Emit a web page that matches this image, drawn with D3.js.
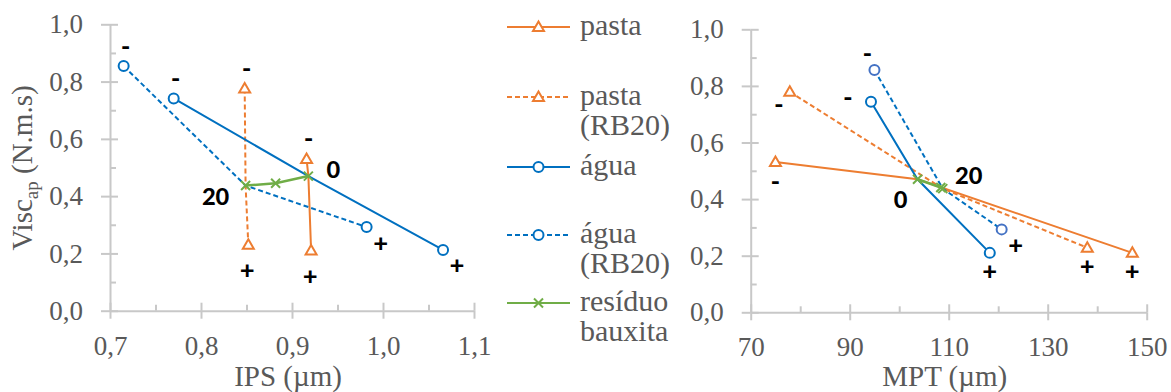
<!DOCTYPE html>
<html>
<head>
<meta charset="utf-8">
<script src="https://cdn.jsdelivr.net/npm/d3@7"></script>
<style>
  body { margin: 0; background: #fff; }
  svg { display: block; }
</style>
</head>
<body>
<div id="wrapper"></div>
<script>
// legend entries (wrapped like in the original)
const seriesNames = ["pasta", "pasta (RB20)", "água", "água (RB20)", "resíduo bauxita"];
const legendLines = [["pasta"], ["pasta", "(RB20)"], ["água"], ["água", "(RB20)"], ["resíduo", "bauxita"]];

// tick values
const viscTicks = [0, 0.2, 0.4, 0.6, 0.8, 1.0];
const viscMinorTicks = [0.1, 0.3, 0.5, 0.7, 0.9];
const ipsTicks = [0.7, 0.8, 0.9, 1.0, 1.1];
const ipsMinorTicks = [0.75, 0.85, 0.95, 1.05];
const mptTicks = [70, 90, 110, 130, 150];
const mptMinorTicks = [80, 100, 120, 140];

// left panel: IPS (µm) x Visc_ap  -- each series is  "-", centre, "+"
const ipsPasta = [[0.916, 0.53], [0.918, 0.47], [0.921, 0.21]];
const ipsPastaRB = [[0.848, 0.776], [0.849, 0.437], [0.852, 0.23]];
const ipsAgua = [[0.770, 0.741], [0.918, 0.47], [1.066, 0.212]];
const ipsAguaRB = [[0.715, 0.854], [0.849, 0.437], [0.982, 0.292]];
const ipsResiduo = [[0.918, 0.47], [0.882, 0.445], [0.849, 0.437]];

// right panel: MPT (µm) x Visc_ap
const mptPasta = [[75.0, 0.531], [103.7, 0.47], [147.1, 0.21]];
const mptPastaRB = [[77.9, 0.779], [108.8, 0.437], [138.0, 0.228]];
const mptAgua = [[94.3, 0.744], [103.7, 0.47], [118.3, 0.21]];
const mptAguaRB = [[95.0, 0.856], [108.8, 0.437], [120.7, 0.293]];
const mptResiduo = [[103.7, 0.47], [108.4, 0.441], [108.8, 0.437]];

// data labels: [series, point, text, placement]
const ipsLabels = [
    [3, 0, "-", "t"], [2, 0, "-", "t"], [1, 0, "-", "t"], [0, 0, "-", "t"],
    [1, 2, "+", "bb"], [0, 2, "+", "bb"], [3, 2, "+", "br"], [2, 2, "+", "br"],
    [4, 2, "20", "L"], [4, 0, "0", "R"]
];
const mptLabels = [
    [0, 0, "-", "b"], [1, 0, "-", "bl"], [2, 0, "-", "l"], [3, 0, "-", "tl"],
    [2, 2, "+", "b"], [3, 2, "+", "br"], [1, 2, "+", "b"], [0, 2, "+", "b"],
    [4, 0, "0", "BL"], [4, 2, "20", "TR"]
];

// style of each series
const styles = [
    {color: "#ED7D31", dash: null, marker: "tri"},
    {color: "#ED7D31", dash: "5,3", marker: "tri"},
    {color: "#0070C0", dash: null, marker: "circ"},
    {color: "#0070C0", dash: "5,3", marker: "circ"},
    {color: "#70AD47", dash: null, marker: "x"}
];

// label offset (px) for each placement keyword
const place = {
    t: [2, -21], b: [0, 18], bb: [-1, 25], br: [14, 15], bl: [-11, 12],
    l: [-23, -5], tl: [-7, -18], L: [-30, 10], R: [25, -8], BL: [-17, 19], TR: [26, -14]
};

const grey = "#595959";
const axisGrey = "#C8C8C8";
const serifFont = "Liberation Serif";
const labelFont = "Carlito";

const locale = d3.formatLocale({decimal: ",", thousands: ".", grouping: [3], currency: ["", ""]});
const fmt1 = locale.format(".1f");

const svg = d3.select("#wrapper").append("svg")
    .attr("width", 1171)
    .attr("height", 392);

const panels = [
    {x0: 110, x1: 474, y0: 24.3, y1: 310.7, domain: [0.7, 1.1], ticks: ipsTicks, minor: ipsMinorTicks,
     format: fmt1, series: [ipsPasta, ipsPastaRB, ipsAgua, ipsAguaRB, ipsResiduo], labels: ipsLabels,
     title: "IPS (µm)", markerColor: {}},
    {x0: 750.7, x1: 1146.7, y0: 29.3, y1: 312.3, domain: [70, 150], ticks: mptTicks, minor: mptMinorTicks,
     format: d3.format("d"), series: [mptPasta, mptPastaRB, mptAgua, mptAguaRB, mptResiduo], labels: mptLabels,
     title: "MPT (µm)", markerColor: {3: "#4472C4"}}
];

function drawMarker(g, kind, color, x, y) {
    if (kind === "tri") {
        g.append("path")
            .attr("d", `M${x},${y - 5.5} L${x + 5.5},${y + 4} L${x - 5.5},${y + 4} Z`)
            .attr("fill", "#fff").attr("stroke", color).attr("stroke-width", 2);
    } else if (kind === "circ") {
        g.append("circle").attr("cx", x).attr("cy", y).attr("r", 5)
            .attr("fill", "#fff").attr("stroke", color).attr("stroke-width", 2);
    } else {
        g.append("path")
            .attr("d", `M${x - 4.5},${y - 4.5} L${x + 4.5},${y + 4.5} M${x - 4.5},${y + 4.5} L${x + 4.5},${y - 4.5}`)
            .attr("stroke", color).attr("stroke-width", 2).attr("fill", "none");
    }
}

panels.forEach(p => {
    const x = d3.scaleLinear().domain(p.domain).range([p.x0, p.x1]);
    const y = d3.scaleLinear().domain([0, 1]).range([p.y1, p.y0]);
    const g = svg.append("g");

    // y axis: major ticks cross, minor inside
    const ya = g.append("g").attr("transform", `translate(${p.x0},0)`);
    ya.call(d3.axisLeft(y).tickValues(viscTicks).tickSize(9).tickSizeOuter(0).tickPadding(18).tickFormat(fmt1));
    ya.append("g").call(d3.axisRight(y).tickValues(viscTicks).tickSize(8).tickFormat(""))
        .select(".domain").remove();
    ya.append("g").call(d3.axisRight(y).tickValues(viscMinorTicks).tickSize(6).tickFormat(""))
        .select(".domain").remove();

    // x axis
    const xa = g.append("g").attr("transform", `translate(0,${p.y1})`);
    xa.call(d3.axisBottom(x).tickValues(p.ticks).tickSize(8).tickSizeOuter(0).tickPadding(17).tickFormat(p.format));
    xa.append("g").call(d3.axisTop(x).tickValues(p.ticks).tickSize(8).tickFormat(""))
        .select(".domain").remove();
    xa.append("g").call(d3.axisTop(x).tickValues(p.minor).tickSize(6).tickFormat(""))
        .select(".domain").remove();

    g.selectAll(".domain, .tick line").attr("stroke", axisGrey).attr("stroke-width", 2);
    g.selectAll("g").attr("font-family", serifFont).attr("font-size", 27);
    g.selectAll(".tick text").attr("fill", grey);

    // axis title
    g.append("text")
        .attr("x", (p.x0 + p.x1) / 2 - 4)
        .attr("y", 386)
        .attr("text-anchor", "middle")
        .attr("fill", grey)
        .attr("font-family", serifFont).attr("font-size", 29)
        .text(p.title);

    // series lines
    const line = d3.line().x(d => x(d[0])).y(d => y(d[1]));
    p.series.forEach((data, i) => {
        const s = styles[i];
        g.append("path")
            .attr("d", line(data))
            .attr("fill", "none")
            .attr("stroke", s.color)
            .attr("stroke-width", i === 4 ? 2.5 : 2)
            .attr("stroke-dasharray", s.dash);
    });
    // markers: only at the "-" and "+" ends, all points for the residue
    p.series.forEach((data, i) => {
        const s = styles[i];
        const mc = p.markerColor[i] || s.color;
        data.forEach((d, j) => {
            if (i === 4 || j !== 1) drawMarker(g, s.marker, mc, x(d[0]), y(d[1]));
        });
    });

    // data labels
    p.labels.forEach(([si, pi, txt, pos]) => {
        const d = p.series[si][pi];
        const off = place[pos];
        g.append("text")
            .attr("x", x(d[0]) + off[0])
            .attr("y", y(d[1]) + off[1])
            .attr("text-anchor", "middle")
            .attr("dominant-baseline", "central")
            .attr("fill", "#000")
            .attr("font-family", labelFont)
            .attr("font-weight", "bold")
            .attr("font-size", 27)
            .text(txt);
    });
});

// y axis title
const yTitle = svg.append("text")
    .attr("transform", "translate(32,168) rotate(-90)")
    .attr("text-anchor", "middle")
    .attr("fill", grey)
    .attr("font-family", serifFont).attr("font-size", 29);
yTitle.append("tspan").text("Visc");
yTitle.append("tspan").attr("dy", 6).attr("font-size", 19).text("ap");
yTitle.append("tspan").attr("dy", -6).text(" (N.m.s)");

// legend
const legend = svg.append("g");
const rowY = [27, 97, 167, 235, 303];
legendLines.forEach((lines, i) => {
    const s = styles[i];
    const ly = rowY[i];
    legend.append("line")
        .attr("x1", 507).attr("x2", 570)
        .attr("y1", ly).attr("y2", ly)
        .attr("stroke", s.color).attr("stroke-width", 2)
        .attr("stroke-dasharray", s.dash);
    drawMarker(legend, s.marker, s.color, 538.5, ly);
    const t = legend.append("text")
        .attr("x", 580).attr("y", ly + 8)
        .attr("fill", grey)
        .attr("font-family", serifFont).attr("font-size", 30);
    lines.forEach((ln, k) => {
        t.append("tspan").attr("x", 580).attr("dy", k === 0 ? 0 : 30).text(ln);
    });
});
</script>
</body>
</html>
